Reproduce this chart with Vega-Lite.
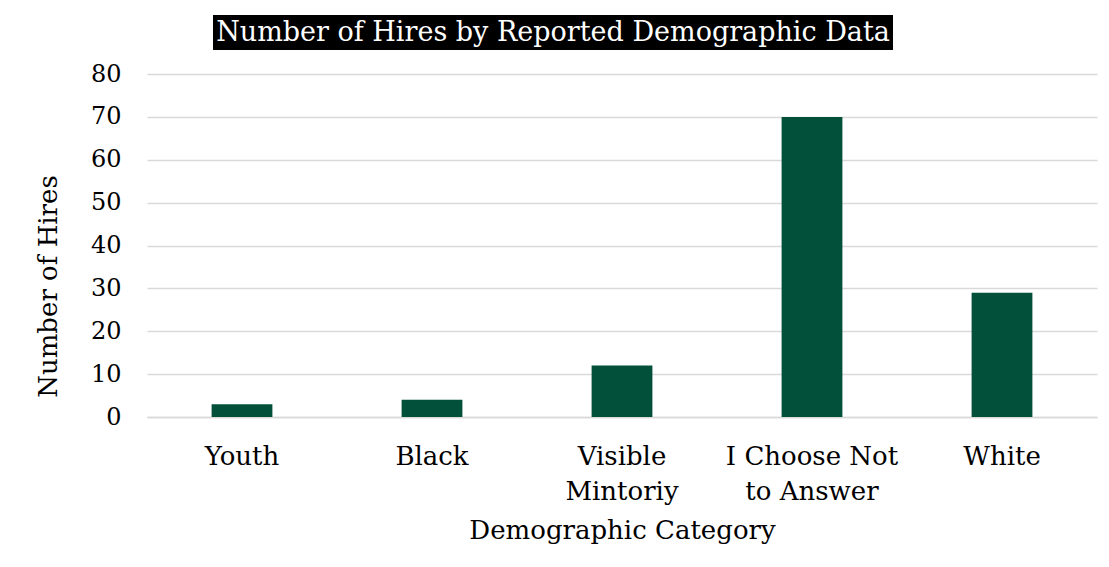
{
  "$schema": "https://vega.github.io/schema/vega-lite/v6.json",
  "background": "white",
  "padding": {"left": 35, "top": 15, "right": 5, "bottom": 5},
  "config": {
    "font": "DejaVu Serif",
    "view": {"stroke": null}
  },
  "datasets": {
    "hires": [
      {"category": "Youth", "hires": 3},
      {"category": "Black", "hires": 4},
      {"category": "Visible Mintoriy", "hires": 12},
      {"category": "I Choose Not to Answer", "hires": 70},
      {"category": "White", "hires": 29}
    ],
    "title": [{"text": "Number of Hires by Reported Demographic Data"}],
    "empty": []
  },
  "align": {"row": "none", "column": "all"},
  "spacing": 12,
  "vconcat": [
    {
      "spacing": 0,
      "hconcat": [
        {
          "width": 66,
          "height": 35,
          "view": {"fill": "white", "stroke": null},
          "data": {"name": "empty"},
          "mark": {"type": "text"},
          "encoding": {}
        },
        {
          "width": 680,
          "height": 35,
          "view": {"fill": "black", "stroke": null},
          "data": {"name": "title"},
          "mark": {"type": "text", "color": "white", "font": "DejaVu Serif", "fontSize": 27, "baseline": "middle", "align": "center"},
          "encoding": {"text": {"field": "text"}}
        }
      ]
    },
    {
      "width": 950,
      "height": 343,
      "data": {"name": "hires"},
      "mark": {"type": "bar", "color": "#03503A"},
      "encoding": {
        "x": {
          "field": "category",
          "type": "nominal",
          "sort": null,
          "title": "Demographic Category",
          "scale": {"paddingInner": 0.68, "paddingOuter": 0.34},
          "axis": {
            "labelAngle": 0,
            "labelFontSize": 26,
            "labelColor": "black",
            "labelPadding": 26,
            "labelLineHeight": 35,
            "labelExpr": "datum.value == 'Visible Mintoriy' ? ['Visible', 'Mintoriy'] : datum.value == 'I Choose Not to Answer' ? ['I Choose Not', 'to Answer'] : datum.value",
            "ticks": false,
            "tickSize": 0,
            "domainColor": "#d9d9d9",
            "domainWidth": 1.5,
            "titleFontSize": 26,
            "titleFontWeight": "normal",
            "titleColor": "black",
            "titlePadding": 13
          }
        },
        "y": {
          "field": "hires",
          "type": "quantitative",
          "title": "Number of Hires",
          "scale": {"domain": [0, 80], "nice": false},
          "axis": {
            "values": [0, 10, 20, 30, 40, 50, 60, 70, 80],
            "labelFontSize": 24,
            "labelColor": "black",
            "labelPadding": 26,
            "ticks": false,
            "tickSize": 0,
            "domain": false,
            "gridColor": "#d9d9d9",
            "gridWidth": 1.5,
            "titleFontSize": 26,
            "titleFontWeight": "normal",
            "titleColor": "black",
            "titlePadding": 29,
            "titleY": 212
          }
        }
      }
    }
  ]
}
